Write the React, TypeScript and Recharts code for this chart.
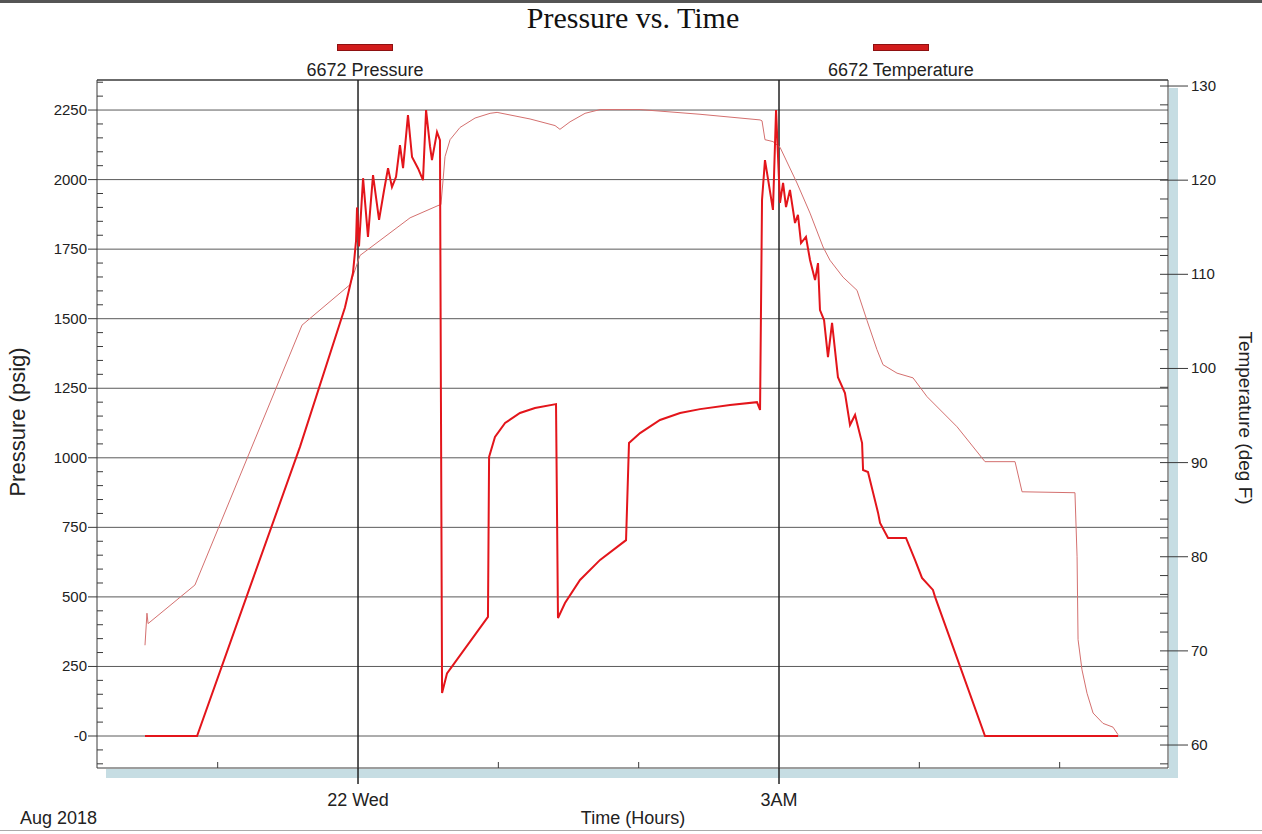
import React from "react";
import { LineChart, Line, XAxis, YAxis, ReferenceLine, Legend } from "recharts";

// time in hours from midnight (22 Wed)
const pressureHours = [
  -1.518, -1.147, -0.77, -0.413, -0.093, -0.036, -0.014, -0.007, 0.007, 0.036, 0.071, 0.107, 0.15,
  0.185, 0.214, 0.242, 0.271, 0.299, 0.321, 0.356, 0.385, 0.428, 0.463, 0.485, 0.513, 0.527, 0.563,
  0.584, 0.591, 0.599, 0.634, 0.926, 0.934, 0.976, 1.048, 1.154, 1.261, 1.411, 1.425, 1.475, 1.582,
  1.725, 1.91, 1.931, 2.01, 2.152, 2.295, 2.437, 2.651, 2.843, 2.865, 2.879, 2.9, 2.957, 2.979, 3.007,
  3.029, 3.05, 3.078, 3.114, 3.135, 3.157, 3.192, 3.221, 3.257, 3.278, 3.292, 3.321, 3.349, 3.378,
  3.42, 3.47, 3.506, 3.542, 3.592, 3.599, 3.634, 3.706, 3.72, 3.777, 3.905, 3.969, 4.019, 4.097, 4.112,
  4.29, 4.468, 5.416,
];
const pressureValues = [
  0, 0, 535, 1040, 1540, 1664, 1780, 1900, 1760, 2005, 1794, 2016, 1855,
  1960, 2041, 1973, 2010, 2124, 2041, 2232, 2081, 2040, 1998, 2250, 2120, 2070, 2171,
  2142, 1200, 155, 225, 428, 1003, 1075, 1125, 1161, 1179, 1193, 424, 478, 561,
  633, 704, 1053, 1089, 1136, 1161, 1175, 1190, 1200, 1172, 1927, 2070, 1891, 2250, 1916,
  1988, 1901, 1963, 1844, 1873, 1772, 1794, 1711, 1639, 1700, 1531, 1495, 1362, 1485,
  1290, 1233, 1118, 1154, 1053, 956, 949, 802, 766, 712, 712, 633, 568, 525, 500,
  250, 0, 0,
];

const tempHours = [
  -1.518, -1.504, -1.496, -1.162, -0.399, -0.057, 0.014, 0.157, 0.371, 0.57, 0.591, 0.606, 0.62,
  0.656, 0.727, 0.834, 0.941, 0.991, 1.226, 1.404, 1.439, 1.511, 1.618, 1.725, 2.01, 2.437, 2.865,
  2.879, 2.9, 2.957, 3.007, 3.128, 3.221, 3.314, 3.363, 3.456, 3.556, 3.627, 3.698, 3.741, 3.841,
  3.955, 4.055, 4.269, 4.468, 4.682, 4.732, 5.109, 5.124, 5.131, 5.159, 5.195, 5.238, 5.309, 5.38,
  5.416,
];
const tempValues = [
  70.6, 74.0, 72.9, 77.0, 104.6, 108.9, 112.0, 113.6, 116.0, 117.3, 117.4, 120.0, 122.5,
  124.3, 125.6, 126.6, 127.1, 127.2, 126.5, 125.8, 125.4, 126.2, 127.1, 127.5, 127.5, 127.0, 126.4,
  126.3, 124.3, 124.1, 123.5, 119.7, 116.5, 112.9, 111.5, 109.7, 108.3, 105.1, 102.0, 100.4, 99.5,
  99.0, 97.0, 93.8, 90.1, 90.1, 86.9, 86.8, 80.0, 71.2, 68.0, 65.5, 63.4, 62.3, 61.9,
  61.1,
];

const pressureTicks = [0, 250, 500, 750, 1000, 1250, 1500, 1750, 2000, 2250];
const tempTicks = [60, 70, 80, 90, 100, 110, 120, 130];
const hourTicks = [-1, 0, 1, 2, 3, 4, 5];
const hourTickLabels = ["", "22 Wed", "", "", "3AM", "", ""];
const markedHours = [0, 3];

const hourDomain = [-1.86, 5.772];
const pressureDomain = [-115, 2358];
const tempDomain = [57.56, 130.64];

const pressureData = pressureHours.map((h, i) => ({ h, p: pressureValues[i] }));
const tempData = tempHours.map((h, i) => ({ h, t: tempValues[i] }));

const pressureMinor: number[] = [];
for (let v = -100; v <= 2350; v += 50) pressureMinor.push(v);
const tempMinor: number[] = [];
for (let v = 58; v <= 130; v += 2) tempMinor.push(v);

const sans = "'Liberation Sans', Arial, sans-serif";
const axisColor = "#3a3a3a";
const pressureColor = "#e3151b";
const tempColor = "#d4706f";

const LeftTick = (props: any) => {
  const { x, y, payload } = props;
  const major = pressureTicks.includes(payload.value);
  return (
    <g>
      {major ? (
        <line x1={x - 9} x2={x} y1={y} y2={y} stroke={axisColor} />
      ) : (
        <line x1={x} x2={x + 6} y1={y} y2={y} stroke={axisColor} />
      )}
      {major && (
        <text x={x - 10} y={y} dy={5} textAnchor="end" fontFamily={sans} fontSize={15} fill="#222">
          {payload.value === 0 ? "-0" : payload.value}
        </text>
      )}
    </g>
  );
};

const RightTick = (props: any) => {
  const { x, y, payload } = props;
  const major = tempTicks.includes(payload.value);
  return (
    <g>
      <line x1={x - 8} x2={major ? x + 20 : x} y1={y} y2={y} stroke={axisColor} />
      {major && (
        <text x={x + 23} y={y} dy={5} textAnchor="start" fontFamily={sans} fontSize={15} fill="#222">
          {payload.value}
        </text>
      )}
    </g>
  );
};

const BottomTick = (props: any) => {
  const { x, y, payload } = props;
  const label = hourTickLabels[hourTicks.indexOf(payload.value)];
  if (label) {
    return (
      <g>
        <line x1={x} x2={x} y1={y} y2={y + 16} stroke="#222" strokeWidth={1.5} />
        <text x={x} y={y + 38} textAnchor="middle" fontFamily={sans} fontSize={18} fill="#222">
          {label}
        </text>
      </g>
    );
  }
  return <line x1={x} x2={x} y1={y} y2={y - 6} stroke={axisColor} />;
};

const legendCenters = [365, 901];

const LegendContent = (props: any) => {
  const items = props.payload || [];
  return (
    <div style={{ position: "relative", width: 1262, height: 0, overflow: "visible" }}>
      {items.map((it: any, i: number) => (
        <div
          key={it.value}
          style={{
            position: "absolute",
            left: legendCenters[i] - 120,
            width: 240,
            top: 0,
            textAlign: "center",
            fontFamily: sans,
            fontSize: 18,
            color: "#222",
          }}
        >
          <div
            style={{
              width: 54,
              height: 5,
              margin: "0 auto",
              background: "#d21c1c",
              border: "1px solid #8e1111",
            }}
          />
          <div style={{ marginTop: 9 }}>{it.value}</div>
        </div>
      ))}
    </div>
  );
};

export default function App() {
  return (
    <div style={{ position: "absolute", left: 0, top: 0, width: 1262, height: 834, background: "#fff", overflow: "hidden" }}>
      <div style={{ position: "absolute", left: 0, top: 0, width: 1262, height: 3, background: "#555" }} />
      <div style={{ position: "absolute", left: 0, top: 830, width: 1262, height: 1, background: "#aaa" }} />
      <div style={{ position: "absolute", left: 106, top: 769, width: 1072, height: 9, background: "#c6dde3" }} />
      <div style={{ position: "absolute", left: 1169, top: 88, width: 9, height: 690, background: "#c6dde3" }} />
      <div
        style={{
          position: "absolute",
          left: 0,
          top: 1,
          width: 1266,
          textAlign: "center",
          fontFamily: "'Liberation Serif', 'Times New Roman', serif",
          fontSize: 30,
          lineHeight: "34px",
          color: "#111",
        }}
      >
        Pressure vs. Time
      </div>
      <div style={{ position: "absolute", left: 20, top: 808, fontFamily: sans, fontSize: 18, color: "#222" }}>Aug 2018</div>
      <div style={{ position: "absolute", left: 0, width: 1266, top: 808, textAlign: "center", fontFamily: sans, fontSize: 18, color: "#222" }}>
        Time (Hours)
      </div>
      <div
        style={{
          position: "absolute",
          left: 18,
          top: 422,
          transform: "translate(-50%, -50%) rotate(-90deg)",
          whiteSpace: "nowrap",
          fontFamily: sans,
          fontSize: 22,
          color: "#222",
        }}
      >
        Pressure (psig)
      </div>
      <div
        style={{
          position: "absolute",
          left: 1245,
          top: 418,
          transform: "translate(-50%, -50%) rotate(90deg)",
          whiteSpace: "nowrap",
          fontFamily: sans,
          fontSize: 19,
          color: "#222",
        }}
      >
        Temperature (deg F)
      </div>
      <div style={{ position: "absolute", left: 0, top: 0 }}>
        <LineChart width={1262} height={834} margin={{ top: 80, right: 34, bottom: 36, left: 37 }}>
          <XAxis
            type="number"
            dataKey="h"
            domain={hourDomain}
            allowDataOverflow
            ticks={hourTicks}
            interval={0}
            height={30}
            tickSize={0}
            tickMargin={0}
            tickLine={false}
            tick={<BottomTick />}
            stroke={axisColor}
          />
          <YAxis
            yAxisId="p"
            orientation="left"
            width={60}
            domain={pressureDomain}
            allowDataOverflow
            ticks={pressureMinor}
            interval={0}
            tickSize={0}
            tickMargin={0}
            tickLine={false}
            tick={<LeftTick />}
            stroke={axisColor}
          />
          <YAxis
            yAxisId="t"
            orientation="right"
            width={60}
            domain={tempDomain}
            allowDataOverflow
            ticks={tempMinor}
            interval={0}
            tickSize={0}
            tickMargin={0}
            tickLine={false}
            tick={<RightTick />}
            stroke={axisColor}
          />
          {/* top frame of the plot */}
          <ReferenceLine yAxisId="p" y={pressureDomain[1]} stroke={axisColor} strokeWidth={1.5} />
          {pressureTicks.map((v) => (
            <ReferenceLine key={v} yAxisId="p" y={v} stroke="#5a5a5a" strokeWidth={1} />
          ))}
          {markedHours.map((h) => (
            <ReferenceLine key={h} yAxisId="p" x={h} stroke="#222" strokeWidth={1.5} />
          ))}
          <Legend
            verticalAlign="middle"
            align="center"
            content={<LegendContent />}
            wrapperStyle={{ position: "absolute", top: 44, left: 0, width: 1262, height: 0 }}
          />
          <Line
            yAxisId="t"
            data={tempData}
            dataKey="t"
            name="6672 Temperature"
            type="linear"
            stroke={tempColor}
            strokeWidth={1}
            dot={false}
            isAnimationActive={false}
            legendType="rect"
          />
          <Line
            yAxisId="p"
            data={pressureData}
            dataKey="p"
            name="6672 Pressure"
            type="linear"
            stroke={pressureColor}
            strokeWidth={2}
            dot={false}
            isAnimationActive={false}
            legendType="rect"
          />
        </LineChart>
      </div>
    </div>
  );
}
